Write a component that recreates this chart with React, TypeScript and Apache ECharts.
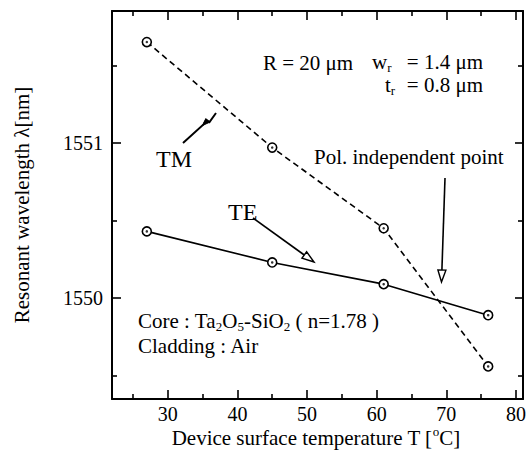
import React, { useEffect, useRef } from 'react';
import * as echarts from 'echarts';

// ---- data ----
const temperatures = [27, 45, 61, 76];
const teWavelength = [1550.43, 1550.23, 1550.09, 1549.89];
const tmWavelength = [1551.65, 1550.97, 1550.45, 1549.56];

const xMajorTicks = [30, 40, 50, 60, 70, 80];
const xMinorTicks = [25, 35, 45, 55, 65, 75];
const yMajorTicks = [1550, 1551];
const yMinorTicks = [1549.5, 1550.5, 1551.5];

const X_MIN = 22;
const X_MAX = 81;
const Y_MIN = 1549.35;
const Y_MAX = 1551.85;

const FONT = "'Liberation Serif', 'Times New Roman', serif";

let measureCtx: CanvasRenderingContext2D | null = null;
function measure(text: string, size: number): number {
  if (!measureCtx) measureCtx = document.createElement('canvas').getContext('2d');
  if (!measureCtx) return text.length * size * 0.5;
  measureCtx.font = `${size}px ${FONT}`;
  return measureCtx.measureText(text).width;
}

type Tok = [string, 'n' | 'sub' | 'sup'];

function textEl(x: number, y: number, text: string, size: number, align = 'left', extra: any = {}) {
  return {
    type: 'text',
    x,
    y,
    silent: true,
    ...extra,
    style: {
      text,
      fill: '#000',
      font: `${size}px ${FONT}`,
      align,
      textAlign: align,
      verticalAlign: 'middle',
      textVerticalAlign: 'middle',
    },
  };
}

const SMALL = 13;

function runWidth(tokens: Tok[], size: number) {
  let w = 0;
  for (const [t, k] of tokens) w += measure(t, k === 'n' ? size : SMALL);
  return w;
}

function run(x: number, y: number, tokens: Tok[], size: number) {
  const els: any[] = [];
  let cx = x;
  for (const [t, k] of tokens) {
    const s = k === 'n' ? size : SMALL;
    const dy = k === 'sub' ? 5 : k === 'sup' ? -7 : 0;
    els.push(textEl(cx, y + dy, t, s));
    cx += measure(t, s);
  }
  return els;
}

function arrow(x1: number, y1: number, x2: number, y2: number) {
  const dx = x2 - x1;
  const dy = y2 - y1;
  const len = Math.sqrt(dx * dx + dy * dy);
  const ux = dx / len;
  const uy = dy / len;
  const hl = 12;
  const hw = 4;
  const bx = x2 - ux * hl;
  const by = y2 - uy * hl;
  return [
    {
      type: 'line',
      silent: true,
      shape: { x1, y1, x2: bx, y2: by },
      style: { stroke: '#000', lineWidth: 1.6 },
    },
    {
      type: 'polygon',
      silent: true,
      shape: {
        points: [
          [x2, y2],
          [bx - uy * hw, by + ux * hw],
          [bx + uy * hw, by - ux * hw],
        ],
      },
      style: { fill: '#fff', stroke: '#000', lineWidth: 1.4 },
    },
  ];
}

function buildGraphics() {
  const els: any[] = [];
  const A = 21;
  // parameters
  els.push(textEl(263, 63, 'R = 20 μm', A));
  els.push(...run(372, 62, [['w', 'n'], ['r', 'sub']], A));
  els.push(textEl(483, 62, '= 1.4 μm', A, 'right'));
  els.push(...run(385, 85, [['t', 'n'], ['r', 'sub']], A));
  els.push(textEl(483, 85, '= 0.8 μm', A, 'right'));
  // polarization independent point
  els.push(textEl(314, 157, 'Pol. independent point', A));
  els.push(...arrow(445, 178, 441.5, 282));
  // TM / TE labels
  els.push(textEl(156, 159, 'TM', 24));
  els.push(textEl(228, 212, 'TE', 24));
  els.push(...arrow(253, 218, 314, 262));
  // lightning arrow for TM
  els.push({
    type: 'polyline',
    silent: true,
    shape: {
      points: [
        [183, 143],
        [203.5, 124.5],
        [206, 119.5],
        [209.5, 122],
        [216, 113],
      ],
    },
    style: { stroke: '#000', lineWidth: 2, fill: 'none' },
  });
  els.push({
    type: 'polygon',
    silent: true,
    shape: { points: [[202.5, 125.5], [206, 119], [209, 122.5]] },
    style: { fill: '#000', stroke: '#000', lineWidth: 1 },
  });
  // material notes
  els.push(
    ...run(
      138,
      321,
      [
        ['Core : Ta', 'n'],
        ['2', 'sub'],
        ['O', 'n'],
        ['5', 'sub'],
        ['-SiO', 'n'],
        ['2', 'sub'],
        [' ( n=1.78 )', 'n'],
      ],
      A
    )
  );
  els.push(textEl(138, 346, 'Cladding : Air', A));
  // x axis title
  const xt: Tok[] = [
    ['Device surface temperature T [', 'n'],
    ['o', 'sup'],
    ['C]', 'n'],
  ];
  const xw = runWidth(xt, A);
  els.push(...run(316 - xw / 2, 438, xt, A));
  // y axis title
  els.push(textEl(22, 205, 'Resonant wavelength λ[nm]', A, 'center', { rotation: Math.PI / 2 }));
  return els;
}

function valueAxis(
  position: string,
  min: number,
  max: number,
  ticks: number[],
  tickLen: number,
  showLine: boolean,
  showLabel: boolean,
  labelMargin: number
) {
  return {
    type: 'value',
    position,
    min,
    max,
    scale: true,
    axisLine: { show: showLine, onZero: false, lineStyle: { color: '#000', width: 2 } },
    axisTick: {
      show: true,
      inside: true,
      length: tickLen,
      customValues: ticks,
      lineStyle: { color: '#000', width: 1.6 },
    },
    axisLabel: {
      show: showLabel,
      customValues: ticks,
      color: '#000',
      fontSize: 20,
      fontFamily: FONT,
      margin: labelMargin,
      formatter: (v: number) => String(v),
    },
    splitLine: { show: false },
    minorTick: { show: false },
  };
}

export default function App() {
  const ref = useRef<HTMLDivElement>(null);
  useEffect(() => {
    document.body.style.margin = '0';
    if (!ref.current) return;
    const chart = echarts.init(ref.current, undefined, { renderer: 'svg' });
    const tmData = temperatures.map((t, i) => [t, tmWavelength[i]]);
    const teData = temperatures.map((t, i) => [t, teWavelength[i]]);
    const markerStyle = { color: '#fff', borderColor: '#000', borderWidth: 1.6 };
    chart.setOption({
      animation: false,
      backgroundColor: '#fff',
      grid: { left: 112, right: 7, top: 11, bottom: 51, containLabel: false },
      xAxis: [
        valueAxis('bottom', X_MIN, X_MAX, xMajorTicks, 9, true, true, 5),
        valueAxis('bottom', X_MIN, X_MAX, xMinorTicks, 5, false, false, 5),
        valueAxis('top', X_MIN, X_MAX, xMajorTicks, 9, true, false, 5),
        valueAxis('top', X_MIN, X_MAX, xMinorTicks, 5, false, false, 5),
      ],
      yAxis: [
        valueAxis('left', Y_MIN, Y_MAX, yMajorTicks, 9, true, true, 9),
        valueAxis('left', Y_MIN, Y_MAX, yMinorTicks, 5, false, false, 9),
        valueAxis('right', Y_MIN, Y_MAX, yMajorTicks, 8, true, false, 9),
        valueAxis('right', Y_MIN, Y_MAX, yMinorTicks, 5, false, false, 9),
      ],
      series: [
        {
          type: 'line',
          name: 'TM',
          data: tmData,
          symbol: 'circle',
          symbolSize: 9,
          itemStyle: markerStyle,
          lineStyle: { color: '#000', width: 1.6, type: [6, 4] },
          z: 3,
        },
        {
          type: 'line',
          name: 'TE',
          data: teData,
          symbol: 'circle',
          symbolSize: 9,
          itemStyle: markerStyle,
          lineStyle: { color: '#000', width: 1.6 },
          z: 3,
        },
        {
          type: 'scatter',
          data: tmData.concat(teData),
          symbol: 'circle',
          symbolSize: 2.5,
          itemStyle: { color: '#000' },
          z: 4,
        },
      ],
      graphic: { elements: buildGraphics() },
    });
    return () => chart.dispose();
  }, []);
  return (
    <div
      ref={ref}
      style={{ position: 'absolute', left: 0, top: 0, width: 530, height: 450, background: '#fff' }}
    />
  );
}
